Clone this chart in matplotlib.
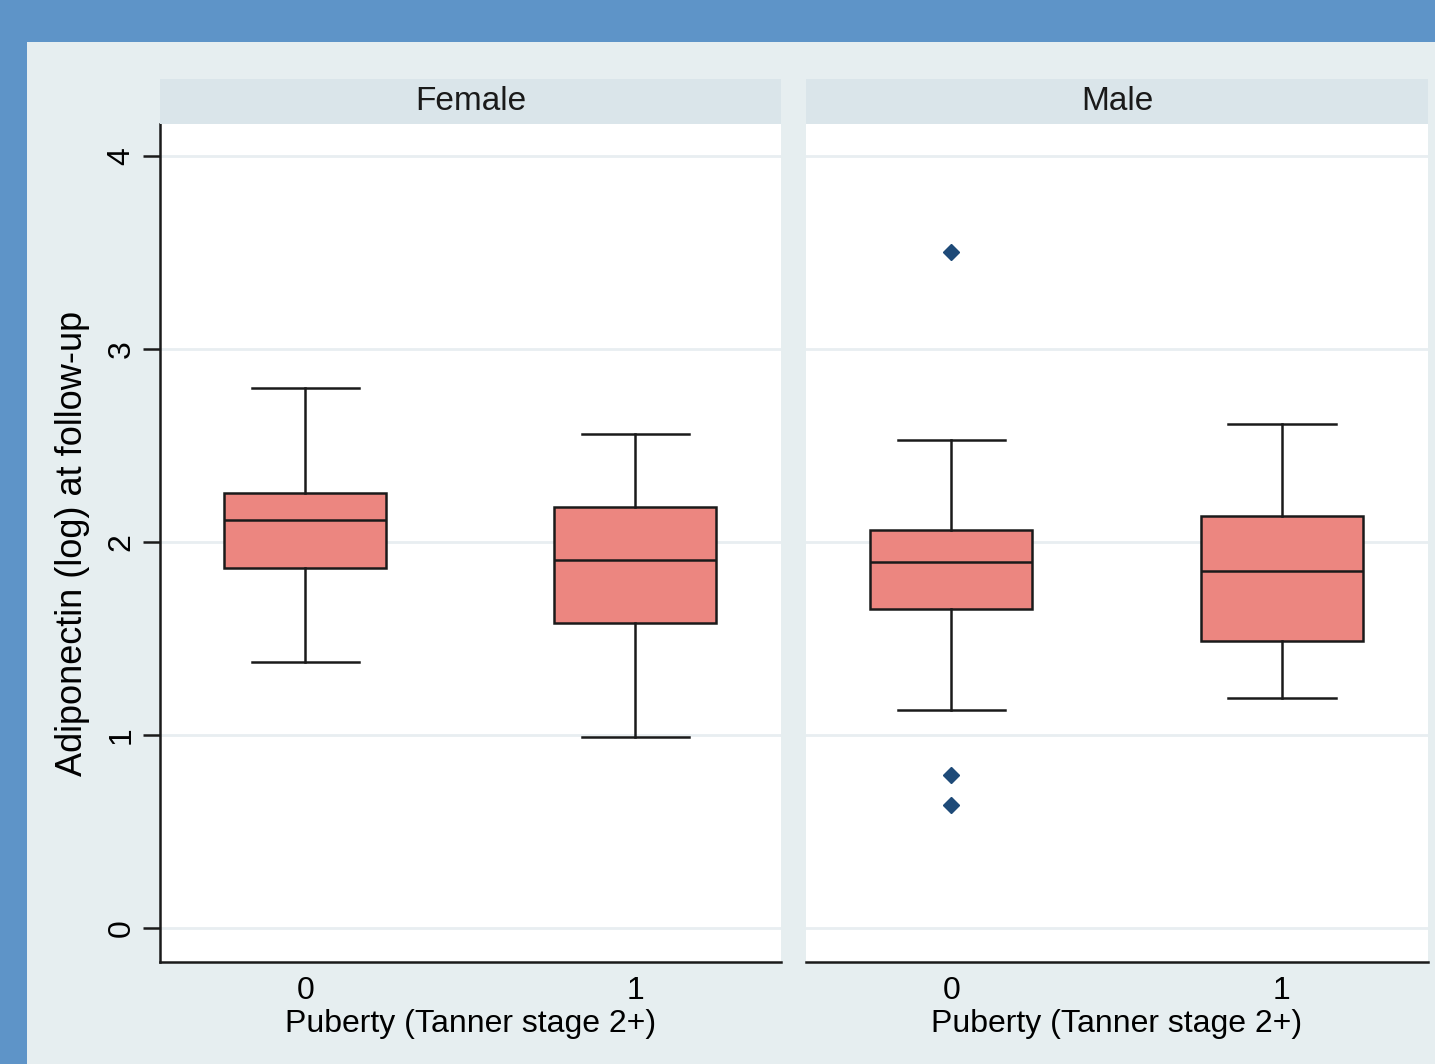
import matplotlib
matplotlib.use("Agg")
import matplotlib.pyplot as plt

plt.rcParams['font.family'] = ['Liberation Sans', 'DejaVu Sans']

# Adiponectin (log) at follow-up, by sex and puberty status
panels = ["Female", "Male"]
puberty_levels = ["0", "1"]
x_label = "Puberty (Tanner stage 2+)"
y_label = "Adiponectin (log) at follow-up"
y_ticks = [0, 1, 2, 3, 4]

female_whislo = [1.38, 0.99]
female_q1 = [1.865, 1.58]
female_med = [2.115, 1.907]
female_q3 = [2.255, 2.18]
female_whishi = [2.80, 2.56]
female_fliers = [[], []]

male_whislo = [1.13, 1.19]
male_q1 = [1.653, 1.487]
male_med = [1.897, 1.85]
male_q3 = [2.062, 2.135]
male_whishi = [2.528, 2.611]
male_fliers = [[3.503, 0.793, 0.637], []]

W, H = 1435, 1064
BLUE = "#5e94c8"
BG = "#e6eef0"
STRIP = "#dae5ea"
GRID = "#e8eef1"
BOX = "#ec8680"
DOT = "#1e4a78"
INK = "#1a1a1a"

fig = plt.figure(figsize=(W / 100, H / 100), dpi=100, facecolor=BLUE)

# light backdrop inside the blue frame
bg = fig.add_axes([27 / W, 0, 1 - 27 / W, (H - 42) / H], zorder=-10)
bg.set_facecolor(BG)
bg.set_xticks([])
bg.set_yticks([])
for sp in bg.spines.values():
    sp.set_visible(False)


def fx(px):
    return px / W


def fy(py):
    return 1 - py / H


def stats_for(whislo, q1, med, q3, whishi, fliers):
    return [dict(whislo=whislo[i], q1=q1[i], med=med[i], q3=q3[i],
                 whishi=whishi[i], fliers=fliers[i])
            for i in range(len(med))]


panel_stats = [
    stats_for(female_whislo, female_q1, female_med, female_q3, female_whishi, female_fliers),
    stats_for(male_whislo, male_q1, male_med, male_q3, male_whishi, male_fliers),
]
panel_left = [160, 806]
panel_width = [621, 622]
top, bottom, strip_top = 124, 962, 79

for k, name in enumerate(panels):
    ax = fig.add_axes([fx(panel_left[k]), fy(bottom), fx(panel_width[k]), (bottom - top) / H])
    ax.set_facecolor("white")
    ax.bxp(panel_stats[k], positions=range(len(puberty_levels)), widths=0.49,
           patch_artist=True, showfliers=True,
           boxprops=dict(facecolor=BOX, edgecolor=INK, linewidth=1.8),
           medianprops=dict(color=INK, linewidth=1.8),
           whiskerprops=dict(color=INK, linewidth=1.8),
           capprops=dict(color=INK, linewidth=1.8),
           capwidths=0.325,
           flierprops=dict(marker="D", markersize=8.5, markerfacecolor=DOT,
                           markeredgecolor=DOT))
    ax.set_xlim(-0.44, 1.442)
    ax.set_ylim(-0.176, 4.166)
    ax.set_yticks(y_ticks)
    ax.grid(axis="y", color=GRID, linewidth=2)
    ax.set_axisbelow(True)
    ax.set_xticks(range(len(puberty_levels)))
    ax.set_xticklabels(puberty_levels, fontsize=23)
    ax.tick_params(axis="x", length=0, pad=10)
    ax.set_xlabel(x_label, fontsize=23, labelpad=2)
    for side in ["top", "right"]:
        ax.spines[side].set_visible(False)
    ax.spines["bottom"].set_linewidth(1.8)
    ax.spines["bottom"].set_color(INK)
    if k == 0:
        ax.spines["left"].set_linewidth(1.8)
        ax.spines["left"].set_color(INK)
        ax.set_yticklabels([str(t) for t in y_ticks], fontsize=23, rotation=90, va="center")
        ax.tick_params(axis="y", length=12, width=1.8, color=INK, pad=5)
        ax.set_ylabel(y_label, fontsize=26, labelpad=12)
    else:
        ax.spines["left"].set_visible(False)
        ax.tick_params(axis="y", length=0, labelleft=False)

    # panel header strip
    sax = fig.add_axes([fx(panel_left[k]), fy(top), fx(panel_width[k]), (top - strip_top) / H])
    sax.set_facecolor(STRIP)
    sax.set_xticks([])
    sax.set_yticks([])
    for sp in sax.spines.values():
        sp.set_visible(False)
    sax.text(0.5, 0.5, name, ha="center", va="center", fontsize=24,
             transform=sax.transAxes, color=INK)

fig.savefig("out.png", dpi=100, facecolor=BLUE)
